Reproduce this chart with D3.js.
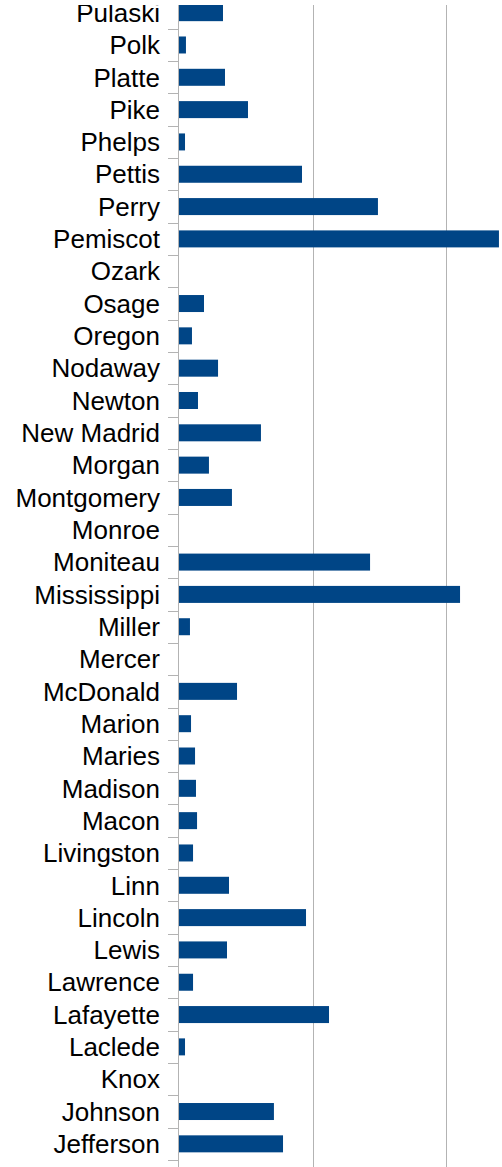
<!DOCTYPE html>
<html>
<head>
<meta charset="utf-8">
<script src="https://cdn.jsdelivr.net/npm/d3@7"></script>
<style>
  html, body { margin: 0; padding: 0; background: #fff; }
  svg { display: block; }
</style>
</head>
<body>
<script>
// Missouri counties, listed as drawn top to bottom
const counties = [
  "Pulaski", "Polk", "Platte", "Pike", "Phelps", "Pettis", "Perry", "Pemiscot",
  "Ozark", "Osage", "Oregon", "Nodaway", "Newton", "New Madrid", "Morgan",
  "Montgomery", "Monroe", "Moniteau", "Mississippi", "Miller", "Mercer",
  "McDonald", "Marion", "Maries", "Madison", "Macon", "Livingston", "Linn",
  "Lincoln", "Lewis", "Lawrence", "Lafayette", "Laclede", "Knox", "Johnson",
  "Jefferson"
];
const values = [
  3.29, 0.52, 3.44, 5.16, 0.45, 9.2, 14.88, 23.93,
  0, 1.87, 0.97, 2.92, 1.42, 6.13, 2.24,
  3.96, 0, 14.29, 21.02, 0.82, 0,
  4.34, 0.9, 1.2, 1.27, 1.35, 1.05, 3.74,
  9.5, 3.59, 1.05, 11.22, 0.45, 0, 7.1,
  7.78
];
const gridValues = [10, 20, 30];

const W = 502, H = 1167;
const plotLeft = 179, plotTop = -3.5, plotBottom = 1160;
const barColor = "#004586", lineColor = "#b3b3b3";

const svg = d3.select("body").append("svg")
  .attr("width", W).attr("height", H);

svg.append("defs").append("clipPath").attr("id", "view")
  .append("rect").attr("x", 0).attr("y", 5).attr("width", W).attr("height", H - 5);

const g = svg.append("g").attr("clip-path", "url(#view)");

const x = d3.scaleLinear().domain([0, 30]).range([plotLeft, plotLeft + 401.1]);
const y = d3.scaleBand().domain(counties).range([plotTop, plotBottom])
  .paddingInner(0.474).paddingOuter(0.237);

const step = y.step();
const gap = (step - y.bandwidth()) / 2;

// vertical grid lines
g.selectAll("line.grid").data(gridValues).enter().append("line")
  .attr("class", "grid")
  .attr("x1", d => Math.round(x(d)) + 0.5).attr("x2", d => Math.round(x(d)) + 0.5)
  .attr("y1", 5).attr("y2", H)
  .attr("stroke", lineColor).attr("stroke-width", 1);

// bars
g.selectAll("rect.bar").data(counties).enter().append("rect")
  .attr("class", "bar")
  .attr("x", x(0))
  .attr("y", d => y(d))
  .attr("width", (d, i) => x(values[i]) - x(0))
  .attr("height", y.bandwidth())
  .attr("fill", barColor);

// category axis line
g.append("line")
  .attr("x1", x(0) - 0.5).attr("x2", x(0) - 0.5)
  .attr("y1", 5).attr("y2", H)
  .attr("stroke", lineColor).attr("stroke-width", 1);

// tick marks on category boundaries
const boundaries = counties.map(c => y(c) - gap).concat([y(counties[counties.length - 1]) + y.bandwidth() + gap]);
g.selectAll("line.tick").data(boundaries).enter().append("line")
  .attr("class", "tick")
  .attr("x1", 168).attr("x2", x(0))
  .attr("y1", d => Math.round(d) + 0.5).attr("y2", d => Math.round(d) + 0.5)
  .attr("stroke", lineColor).attr("stroke-width", 1);

// category labels
const axis = g.append("g")
  .attr("transform", `translate(${x(0)},0)`)
  .call(d3.axisLeft(y).tickSize(0).tickPadding(19));
axis.select(".domain").remove();
axis.selectAll("text")
  .attr("dy", "0.355em")
  .attr("fill", "#000")
  .style("font-family", "'Liberation Sans', Arial, sans-serif")
  .style("font-size", "26px");
</script>
</body>
</html>
